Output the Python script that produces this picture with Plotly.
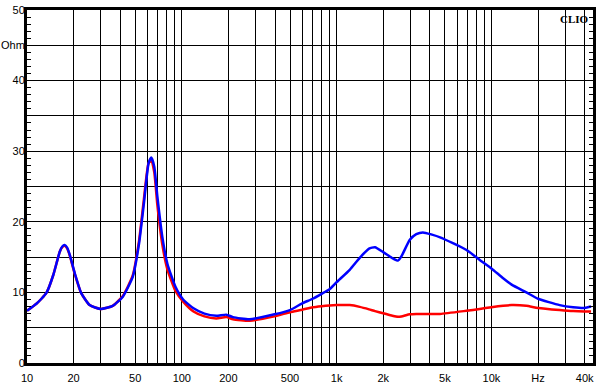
import numpy as np
import plotly.graph_objects as go

freq = [10, 11.5, 12.4, 13.4, 14.8, 16.3, 16.9, 17.5, 18.2, 18.9, 20.3, 22.4, 25.4, 30, 35.8,
        41.6, 48.2, 53, 56.9, 61, 63.5, 66.4, 69.5, 74.8, 80.6, 91, 102, 119, 140, 167, 194,
        214, 274, 397, 500, 600, 700, 800, 900, 1000, 1215, 1410, 1620, 1770, 2000, 2290,
        2490, 2620, 2970, 3270, 3610, 4660, 6900, 8400, 10000, 11900, 13500, 16800,
        20000, 27600, 33700, 40000, 44000]

blue_ohm = [7.4, 8.4, 9.1, 10.0, 12.5, 15.8, 16.5, 16.7, 16.3, 15.3, 12.8, 9.9, 8.2, 7.65, 8.1,
            9.4, 12.2, 17.0, 22.6, 28.3, 29.1, 27.8, 23.6, 17.9, 14.1, 10.8, 9.0, 7.75, 7.0, 6.7, 6.85,
            6.5, 6.2, 6.9, 7.5, 8.45, 9.1, 9.8, 10.45, 11.45, 13.2, 14.9, 16.2, 16.4, 15.7, 14.85,
            14.5, 15.1, 17.45, 18.25, 18.5, 17.8, 16.0, 14.6, 13.4, 12.0, 11.1, 10.0,
            9.1, 8.2, 7.9, 7.8, 8.0]

red_ohm = [7.4, 8.4, 9.1, 10.0, 12.5, 15.8, 16.4, 16.6, 16.2, 15.2, 12.7, 9.9, 8.2, 7.65, 8.1,
           9.5, 12.4, 17.4, 23.2, 28.3, 28.6, 27.0, 22.4, 16.8, 13.3, 10.2, 8.7, 7.3, 6.6, 6.3, 6.5,
           6.2, 6.0, 6.6, 7.2, 7.55, 7.9, 8.05, 8.15, 8.2, 8.2, 7.95, 7.6, 7.35, 7.05, 6.7,
           6.55, 6.6, 6.9, 6.95, 6.95, 6.95, 7.4, 7.65, 7.9, 8.1, 8.2, 8.1,
           7.8, 7.5, 7.35, 7.3, 7.3]

x_grid = ([10 * i for i in range(1, 10)] + [100 * i for i in range(1, 10)] +
          [1000 * i for i in range(1, 10)] + [10000, 20000, 30000, 40000])
x_labels = {10: "10", 20: "20", 50: "50", 100: "100", 200: "200", 500: "500",
            1000: "1k", 2000: "2k", 5000: "5k", 10000: "10k", 20000: "Hz", 40000: "40k"}
x_text = [x_labels.get(v, "") for v in x_grid]

y_grid = [0, 5, 10, 15, 20, 25, 30, 35, 40, 45, 50]
y_text = ["0", "", "10", "", "20", "", "30", "", "40", "Ohm", "50"]

fig = go.Figure()
fig.add_trace(go.Scatter(x=freq, y=red_ohm, mode="lines",
                         line=dict(color="#ff0000", width=2.5, shape="spline", smoothing=0.5),
                         hoverinfo="skip", showlegend=False))
fig.add_trace(go.Scatter(x=freq, y=blue_ohm, mode="lines",
                         line=dict(color="#0000ff", width=2.5, shape="spline", smoothing=0.5),
                         hoverinfo="skip", showlegend=False))

font = dict(family="Liberation Sans, Arial, sans-serif", size=11, color="#000000")

fig.update_layout(
    width=602, height=390,
    margin=dict(l=27, r=9, t=10, b=27, autoexpand=False),
    paper_bgcolor="white", plot_bgcolor="white",
    font=font,
    xaxis=dict(type="log", range=[1, 4.656], tickmode="array", tickvals=x_grid,
               ticktext=x_text, showgrid=True, gridcolor="#000000", gridwidth=1,
               showline=True, linecolor="#000000", linewidth=3, mirror=True,
               ticks="", tickfont=font, zeroline=False, automargin=False,
               ticklabelstandoff=3),
    yaxis=dict(range=[0, 50], tickmode="array", tickvals=y_grid, ticktext=y_text,
               showgrid=True, gridcolor="#000000", gridwidth=1,
               showline=True, linecolor="#000000", linewidth=3, mirror="allticks",
               ticks="inside", ticklen=4, tickcolor="#000000",
               minor=dict(dtick=1, ticks="inside", ticklen=4, tickcolor="#000000", showgrid=False),
               tickfont=font, zeroline=False, automargin=False, ticklabelstandoff=-3),
    annotations=[dict(text="<b>CLIO</b>", x=1, y=1, xref="paper", yref="paper",
                      xanchor="right", yanchor="top", showarrow=False, xshift=-2, yshift=-1,
                      font=dict(family="Liberation Serif, Times New Roman, serif", size=11,
                                color="#000000"))],
)

fig.write_html("out.html", config={"displayModeBar": False},
               post_script="document.body.style.margin='0';document.body.style.overflow='hidden';")
